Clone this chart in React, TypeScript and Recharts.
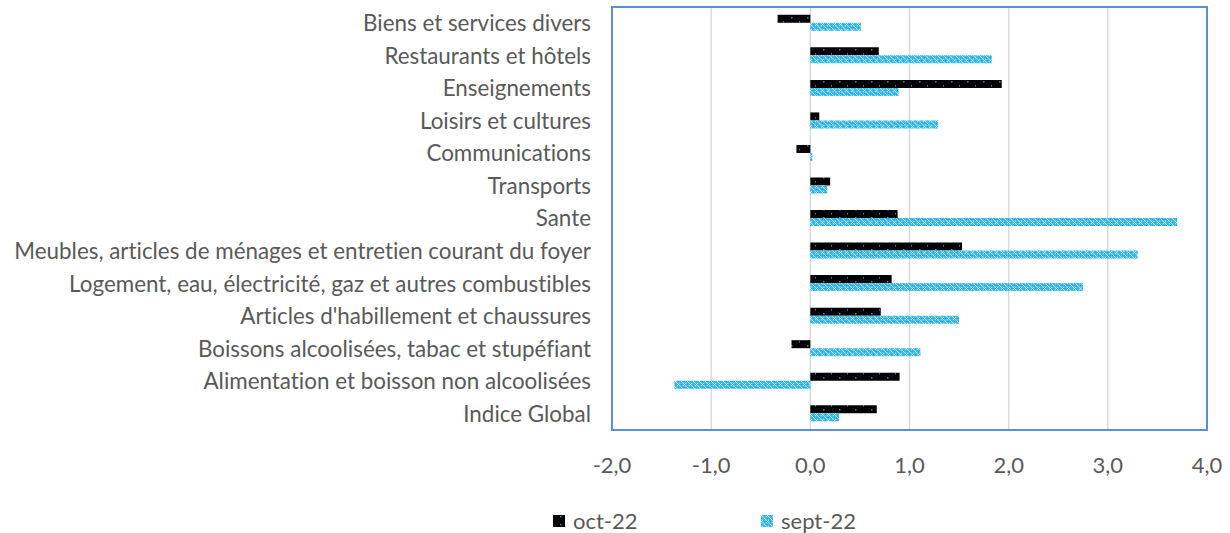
import { BarChart, Bar, XAxis, YAxis, CartesianGrid, Legend, ReferenceArea } from 'recharts';

// categories, top to bottom as they appear in the chart
const categories = [
  'Biens et services divers',
  'Restaurants et hôtels',
  'Enseignements',
  'Loisirs et cultures',
  'Communications',
  'Transports',
  'Sante',
  'Meubles, articles de ménages et entretien courant du foyer',
  'Logement, eau, électricité, gaz et autres combustibles',
  "Articles d'habillement et chaussures",
  'Boissons alcoolisées, tabac et stupéfiant',
  'Alimentation et boisson non alcoolisées',
  'Indice Global',
];
const oct22 = [-0.33, 0.69, 1.93, 0.09, -0.14, 0.2, 0.88, 1.53, 0.82, 0.71, -0.19, 0.9, 0.67];
const sept22 = [0.51, 1.83, 0.89, 1.29, 0.02, 0.17, 3.7, 3.3, 2.75, 1.5, 1.11, -1.37, 0.29];
const xTicks = [-2, -1, 0, 1, 2, 3, 4];

const data = categories.map((name, i) => ({ name, oct: oct22[i], sept: sept22[i] }));

const FONT = 'Lato, "Liberation Sans", sans-serif';
const TEXT = '#595959';

const fmt = (v: number) => v.toFixed(1).replace('.', ',');

function LegendBox() {
  const item = (fill: string, label: string, left: number) => (
    <div style={{ position: 'absolute', left, top: 0, display: 'flex', alignItems: 'center' }}>
      <svg width={12} height={12} style={{ marginRight: 8 }}>
        <rect width={12} height={12} fill={fill} />
      </svg>
      <span style={{ fontFamily: FONT, fontSize: 22, color: TEXT }}>{label}</span>
    </div>
  );
  return (
    <div style={{ position: 'relative', width: 1230, height: 26 }}>
      {item('url(#octPat)', 'oct-22', 553)}
      {item('url(#septPat)', 'sept-22', 761)}
    </div>
  );
}

export default function App() {
  return (
    <div style={{ position: 'absolute', left: 0, top: 0, background: '#fff', fontVariantLigatures: 'none' }}>
      <BarChart
        width={1230}
        height={533}
        data={data}
        layout="vertical"
        margin={{ top: 7, right: 23, left: 0, bottom: 0 }}
        barCategoryGap="24%"
        barGap={0}
      >
        <defs>
          <pattern id="octPat" width={16} height={8} patternUnits="userSpaceOnUse">
            <rect width={16} height={8} fill="#000" />
            <rect x={7} y={1} width={1.5} height={1.5} fill="#1a8fc8" />
            <rect x={15} y={5} width={1.5} height={1.5} fill="#1a8fc8" />
          </pattern>
          <pattern id="septPat" width={6} height={6} patternUnits="userSpaceOnUse">
            <rect width={6} height={6} fill="#3dbcf2" />
            <rect x={0} y={0} width={1} height={1} fill="#fff" />
            <rect x={3} y={3} width={1} height={1} fill="#fff" />
            <rect x={1} y={1} width={1} height={1} fill="#a8e2fa" />
            <rect x={5} y={1} width={1} height={1} fill="#a8e2fa" />
            <rect x={2} y={2} width={1} height={1} fill="#a8e2fa" />
            <rect x={4} y={4} width={1} height={1} fill="#a8e2fa" />
            <rect x={1} y={5} width={1} height={1} fill="#a8e2fa" />
            <rect x={5} y={5} width={1} height={1} fill="#a8e2fa" />
            <rect x={0} y={3} width={1} height={1} fill="#0da6e8" />
            <rect x={3} y={0} width={1} height={1} fill="#0da6e8" />
          </pattern>
        </defs>
        <CartesianGrid horizontal={false} stroke="#d9d9d9" strokeWidth={1.5} />
        <XAxis
          type="number"
          domain={[-2, 4]}
          ticks={xTicks}
          tickFormatter={fmt}
          axisLine={false}
          tickLine={false}
          tickSize={0}
          tickMargin={27}
          height={103}
          tick={{ fill: TEXT, fontSize: 22, fontFamily: FONT }}
        />
        <YAxis
          type="category"
          dataKey="name"
          width={612}
          interval={0}
          axisLine={false}
          tickLine={false}
          tickSize={0}
          tickMargin={21}
          tick={{ fill: TEXT, fontSize: 22.4, fontFamily: FONT }}
        />
        <Bar dataKey="oct" name="oct-22" fill="url(#octPat)" isAnimationActive={false} />
        <Bar dataKey="sept" name="sept-22" fill="url(#septPat)" isAnimationActive={false} />
        <ReferenceArea x1={-2} x2={4} fill="none" stroke="#5b8fd0" strokeWidth={2} ifOverflow="visible" />
        <Legend
          verticalAlign="middle"
          align="center"
          content={() => <LegendBox />}
          wrapperStyle={{ top: 507, left: 0, width: 1230 }}
        />
      </BarChart>
    </div>
  );
}
